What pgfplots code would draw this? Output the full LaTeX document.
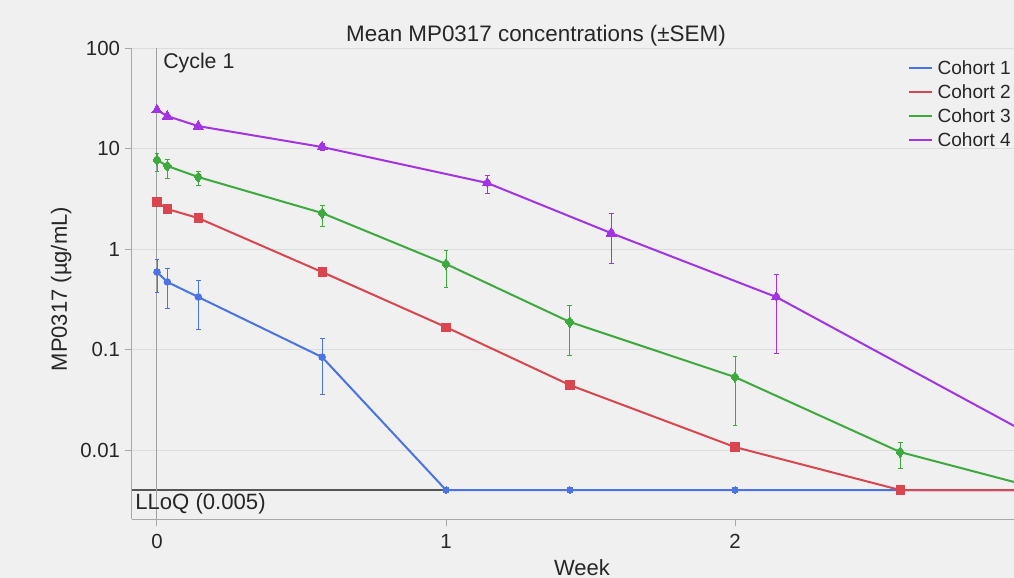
\documentclass[border=0pt]{standalone}
\usepackage{pgfplots}
\pgfplotsset{compat=1.18}
\usepackage{pgfplotstable}
\usepackage{fontspec}
\setmainfont{Liberation Sans}

\definecolor{bg}{HTML}{F0F0F0}
\definecolor{gridgray}{HTML}{DCDCDC}
\definecolor{axisgray}{HTML}{A8A8A8}
\definecolor{zerogray}{HTML}{A0A0A0}
\definecolor{lloqgray}{HTML}{555555}
\definecolor{cA}{HTML}{4A73E6}
\definecolor{cB}{HTML}{D9464F}
\definecolor{cC}{HTML}{3DAA3D}
\definecolor{cD}{HTML}{A334E3}

% Cohort 1
\pgfplotstableread{
x y
0      0.59
0.0357 0.47
0.1429 0.333
0.5714 0.084
1.0    0.004
1.4286 0.004
2.0    0.004
2.5714 0.004
3.2    0.004
}\cohortA
\pgfplotstableread{
x y ep em
0      0.59  0.205 0.217
0.0357 0.47  0.177 0.211
0.1429 0.333 0.159 0.173
0.5714 0.084 0.046 0.048
}\cohortAerr
% Cohort 2
\pgfplotstableread{
x y
0      2.94
0.0357 2.50
0.1429 2.03
0.5714 0.59
1.0    0.167
1.4286 0.0443
2.0    0.0107
2.5714 0.004
3.2    0.004
}\cohortB
% Cohort 3
\pgfplotstableread{
x y
0      7.69
0.0357 6.70
0.1429 5.20
0.5714 2.28
1.0    0.71
1.4286 0.188
2.0    0.0532
2.5714 0.00955
3.2    0.0032
}\cohortC
\pgfplotstableread{
x y ep em
0      7.69    1.33    1.72
0.0357 6.70    1.17    1.62
0.1429 5.20    0.77    0.87
0.5714 2.28    0.46    0.59
1.0    0.71    0.267   0.291
1.4286 0.188   0.089   0.100
2.0    0.0532  0.0328  0.0355
2.5714 0.00955 0.00245 0.00293
}\cohortCerr
% Cohort 4
\pgfplotstableread{
x y
0      24.2
0.0357 21.0
0.1429 16.7
0.5714 10.35
1.1429 4.54
1.5714 1.44
2.1429 0.333
3.2    0.0075
}\cohortD
\pgfplotstableread{
x y ep em
0.5714 10.35 0.8   0.8
1.1429 4.54  0.91  0.93
1.5714 1.44  0.84  0.714
2.1429 0.333 0.231 0.241
}\cohortDerr

\begin{document}
\begin{tikzpicture}
\fill[bg] (0,0) rectangle (760.5pt,433.5pt);
\begin{axis}[
  at={(99pt,44.25pt)}, anchor=south west,
  width=661.5pt, height=353.25pt, scale only axis,
  xmin=-0.0865, xmax=2.9654,
  ymode=log, ymin=0.00206, ymax=100,
  axis x line=bottom, axis y line=left,
  axis line style={-, draw=axisgray, line width=0.75pt},
  xtick={0,1,2}, xticklabels={0,1,2},
  ytick={0.01,0.1,1,10,100}, yticklabels={0.01,0.1,1,10,100},
  yminorticks=false, xminorticks=false,
  ymajorgrids, grid style={gridgray, line width=0.75pt},
  tick align=outside, major tick length=5.5pt,
  tick style={axisgray, line width=0.75pt},
  /pgf/number format/assume math mode=true,
  ticklabel style={font=\fontsize{15.3}{18}\selectfont, text=black!85},
  xticklabel style={yshift=-2.25pt},
  xlabel={Week}, ylabel={MP0317 (µg/mL)},
  label style={font=\fontsize{16.5}{19}\selectfont, text=black!85},
  xlabel style={at={(axis description cs:0.5102,-0.1189)}, anchor=base},
  ylabel style={at={(axis description cs:-0.0737,0.488)}, anchor=base},
  legend cell align=left,
  legend style={at={(rel axis cs:1,1)}, anchor=north east,
    xshift=-2.25pt, yshift=-9pt, draw=none, fill=none,
    font=\fontsize{14.3}{17}\selectfont, text=black!85,
    row sep=6.2pt, column sep=3.5pt, inner sep=0pt,
    nodes={inner sep=0pt}},
  legend image code/.code={\draw[#1] (0pt,0pt) -- (17.25pt,0pt);},
  every axis plot/.append style={line width=1.5pt},
]
% reference lines
\addplot[forget plot, lloqgray, line width=1.1pt] coordinates {(-0.0865,0.004) (2.9654,0.004)};
\draw[zerogray, line width=0.75pt] (axis cs:0,0.00206) -- (axis cs:0,100);

\addplot[cA, mark=*, mark size=2.3pt, mark options={solid, fill=cA, line width=0pt}] table[x=x,y=y] {\cohortA};
\addlegendentry{Cohort 1}
\addplot[cB, mark=square*, mark size=3.1pt, mark options={solid, fill=cB, line width=0pt}] table[x=x,y=y] {\cohortB};
\addlegendentry{Cohort 2}
\addplot[cC, mark=diamond*, mark size=3.9pt, mark options={solid, fill=cC, line width=0pt}] table[x=x,y=y] {\cohortC};
\addlegendentry{Cohort 3}
\addplot[cD, mark=triangle*, mark size=4.4pt, mark options={solid, fill=cD, line width=0pt}] table[x=x,y=y] {\cohortD};
\addlegendentry{Cohort 4}

\addplot[forget plot, cA, only marks, mark=none,
  error bars/.cd, y dir=both, y explicit,
  error bar style={line width=0.65pt, cA},
  error mark options={rotate=90, mark size=1.8pt, line width=0.65pt, cA}]
  table[x=x,y=y,y error plus=ep,y error minus=em] {\cohortAerr};
\addplot[forget plot, cC, only marks, mark=none,
  error bars/.cd, y dir=both, y explicit,
  error bar style={line width=0.65pt, cC},
  error mark options={rotate=90, mark size=1.8pt, line width=0.65pt, cC}]
  table[x=x,y=y,y error plus=ep,y error minus=em] {\cohortCerr};
\addplot[forget plot, cD, only marks, mark=none,
  error bars/.cd, y dir=both, y explicit,
  error bar style={line width=0.65pt, cD},
  error mark options={rotate=90, mark size=1.8pt, line width=0.65pt, cD}]
  table[x=x,y=y,y error plus=ep,y error minus=em] {\cohortDerr};

\node[anchor=north west, inner sep=0pt, font=\fontsize{16}{19}\selectfont, text=black!85]
  at ([xshift=4.5pt,yshift=-3.5pt] axis cs:0,100) {Cycle 1};
\node[anchor=north west, inner sep=0pt, font=\fontsize{16.6}{19}\selectfont, text=black!85]
  at ([xshift=2.25pt,yshift=-2.6pt] axis cs:-0.0865,0.004) {LLoQ (0.005)};
\end{axis}
\node[anchor=base, inner sep=0pt, font=\fontsize{16.8}{20}\selectfont, text=black!85]
  at (402pt,402.2pt) {Mean MP0317 concentrations (±SEM)};
\pgfresetboundingbox
\useasboundingbox (0,0) rectangle (760.5pt,433.5pt);
\end{tikzpicture}
\end{document}
